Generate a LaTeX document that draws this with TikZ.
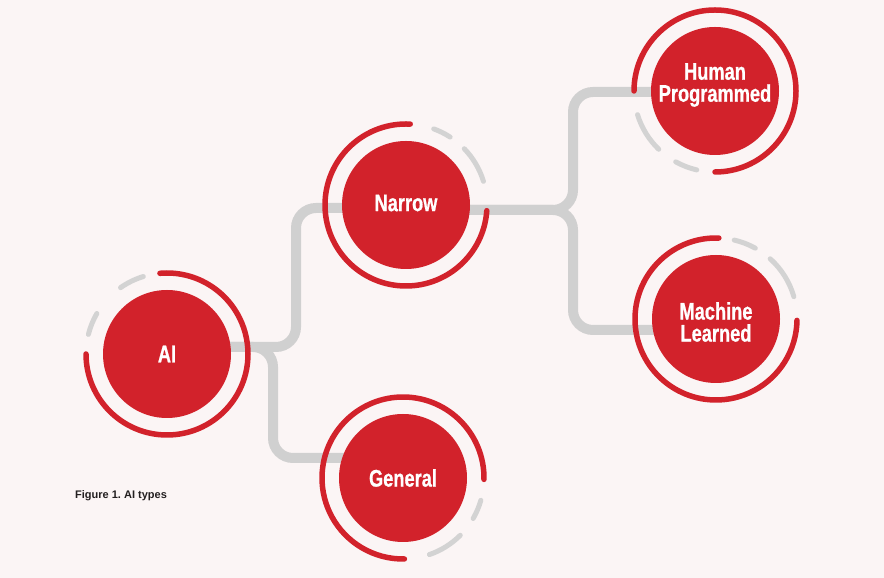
\documentclass[tikz,border=0pt]{standalone}
\usepackage{fontspec}
\setmainfont{Liberation Sans}
\newfontfamily\condfont{Liberation Sans}[FakeStretch=0.76,FakeBold=0.7]
\definecolor{redc}{HTML}{D2222B}
\definecolor{bgc}{HTML}{FBF5F5}
\definecolor{connc}{HTML}{D0D0D0}
\definecolor{dashc}{HTML}{D3D3D3}
\definecolor{captc}{HTML}{231F20}
\pgfdeclarelayer{back}
\pgfdeclarelayer{conn}
\pgfsetlayers{back,conn,main}
\tikzset{
  disc/.style={circle, fill=redc, draw=none, minimum size=128pt, inner sep=0pt},
  lbl/.style={text=white, align=center, inner sep=0pt,
    font=\condfont\bfseries\fontsize{24}{22}\selectfont},
  connector/.style={draw=connc, line width=10pt, rounded corners=20pt},
  redarc/.style={draw=redc, line width=5.5pt, line cap=round},
  grayarc/.style={draw=dashc, line width=5pt, line cap=round},
}
\newcommand{\ringarc}[4]{\draw[#1] (#2) ++(#3:81pt) arc[start angle=#3, end angle=#4, radius=81pt];}
\begin{document}
\frenchspacing
\begin{tikzpicture}[x=1pt,y=1pt]
\useasboundingbox (0,0) rectangle (884,578);
\begin{pgfonlayer}{back}
\fill[bgc] (0,0) rectangle (884,578);
\end{pgfonlayer}

% discs
\node[disc] (ai) at (167,224) {};
\node[disc] (narrow) at (406,373) {};
\node[disc] (human) at (715,487) {};
\node[disc] (machine) at (716,259) {};
\node[disc] (general) at (403,100) {};

% labels
\node[lbl] (ailbl) at (ai.center) {AI};
\node[lbl] (narrowlbl) at ([yshift=2pt]narrow.center) {Narrow};
\node[lbl] (humanlbl) at ([yshift=6pt]human.center) {Human\\Programmed};
\node[lbl] (machinelbl) at ([yshift=-3pt]machine.center) {Machine\\Learned};
\node[lbl] (generallbl) at (general.center) {General};

% connectors
\begin{pgfonlayer}{conn}
\draw[connector] ([yshift=7pt]ai.center) -- (296,231) -- (296,370) -- ([yshift=-3pt]narrow.center);
\draw[connector] ([yshift=7pt]ai.center) -- (273,231) -- (273,120) -- ([yshift=20pt]general.center);
\draw[connector] ([yshift=-5pt]narrow.center) -- (573,368) -- (573,486) -- ([yshift=-1pt]human.center);
\draw[connector] ([yshift=-5pt]narrow.center) -- (573,368) -- (573,248) -- ([yshift=-11pt]machine.center);
\end{pgfonlayer}

% rings
\ringarc{redarc}{ai.center}{-180}{95}
\ringarc{grayarc}{ai.center}{107}{125}
\ringarc{grayarc}{ai.center}{150}{166}

\ringarc{redarc}{narrow.center}{87}{356}
\ringarc{grayarc}{narrow.center}{17}{44}
\ringarc{grayarc}{narrow.center}{57}{70}

\ringarc{redarc}{human.center}{-90}{180}
\ringarc{grayarc}{human.center}{197}{226}
\ringarc{grayarc}{human.center}{241}{257}

\ringarc{redarc}{machine.center}{88}{359}
\ringarc{grayarc}{machine.center}{16}{48}
\ringarc{grayarc}{machine.center}{61}{77}

\ringarc{redarc}{general.center}{-1}{271}
\ringarc{grayarc}{general.center}{-30}{-16}
\ringarc{grayarc}{general.center}{-71}{-45}

% caption
\node[anchor=base west, inner sep=0pt, text=captc,
  font=\bfseries\fontsize{11}{13}\selectfont] (caption) at (75,79) {Figure 1. AI types};
\end{tikzpicture}
\end{document}
